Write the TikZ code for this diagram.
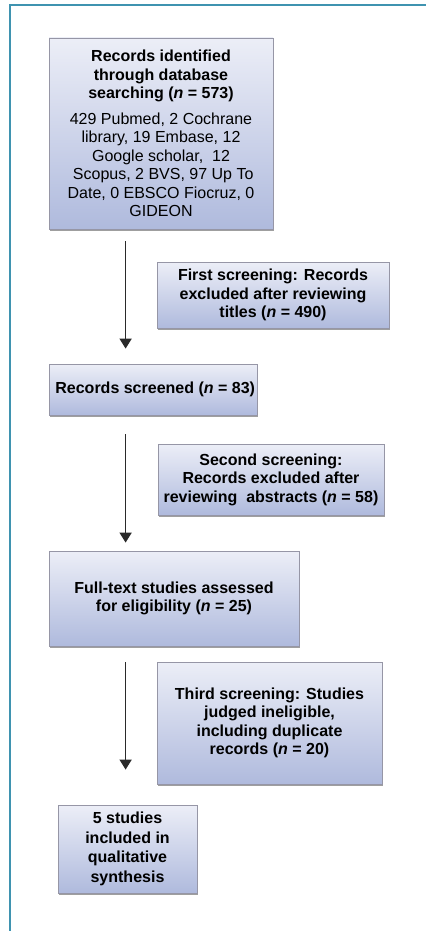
\documentclass[tikz,border=0pt]{standalone}
\usepackage{fontspec}
\setmainfont{Liberation Sans}
\usetikzlibrary{arrows.meta,shadows,calc}
\definecolor{frameteal}{HTML}{3F93B0}
\definecolor{boxtop}{HTML}{ECEEF7}
\definecolor{boxbot}{HTML}{AFBADD}
\definecolor{boxline}{HTML}{9696A6}
\definecolor{arrowgrey}{HTML}{2A2A2A}
\tikzset{
  flowbox/.style={draw=boxline, line width=0.8pt, top color=boxtop, bottom color=boxbot,
    align=center, inner sep=0pt, font=\fontsize{16}{18.5}\selectfont\bfseries,
    drop shadow={shadow xshift=1pt, shadow yshift=-2pt, fill=black!50, opacity=0.75}},
  flowarrow/.style={draw=arrowgrey, line width=1.6pt, -{Triangle[width=12pt,length=10pt]}}
}
\begin{document}
\begin{tikzpicture}[x=1pt,y=1pt]
\useasboundingbox (0,0) rectangle (426,-931);
\fill[white] (0,0) rectangle (426,-931);
% outer frame: top and left rules
\draw[frameteal, line width=2.5pt] (10,-931) -- (10,-5) -- (426,-5);

% boxes
\node[flowbox, minimum width=224, minimum height=191] (b1) at (161,-133.5)
  {Records identified\\through database\\searching (\textit{n} = 573)\\[7pt]
   \mdseries 429 Pubmed, 2 Cochrane\\\mdseries library, 19 Embase, 12\\
   \mdseries Google scholar,\ \ 12\\\mdseries\ Scopus, 2 BVS, 97 Up To\\
   \mdseries Date, 0 EBSCO Fiocruz, 0\\\mdseries GIDEON};
\node[flowbox, minimum width=232, minimum height=66] (b2) at (273,-295)
  {First screening: Records\\excluded after reviewing\\titles (\textit{n} = 490)};
\node[flowbox, minimum width=208, minimum height=51] (b3) at (153,-389.5)
  {\ Records screened (\textit{n} = 83)};
\node[flowbox, minimum width=226, minimum height=71] (b4) at (271,-479.5)
  {Second screening:\\Records excluded after\\reviewing\ \ abstracts (\textit{n} = 58)};
\node[flowbox, minimum width=250, minimum height=95] (b5) at (174,-598.5)
  {Full-text studies assessed\\for eligibility (\textit{n} = 25)};
\node[flowbox, minimum width=225, minimum height=122] (b6) at (269.5,-723)
  {Third screening: Studies\\judged ineligible,\\including duplicate\\records (\textit{n} = 20)};
\node[flowbox, minimum width=139, minimum height=88, font=\fontsize{16}{19.5}\selectfont\bfseries] (b7) at (127.5,-849)
  {5 studies\\included in\\qualitative\\synthesis};

% flow arrows
\draw[flowarrow] ([xshift=77pt,yshift=-12pt]b1.south west) -- ([xshift=77pt,yshift=15pt]b3.north west);
\draw[flowarrow] ([xshift=77pt,yshift=-19pt]b3.south west) -- ([xshift=77pt,yshift=8pt]b5.north west);
\draw[flowarrow] ([xshift=77pt,yshift=-16pt]b5.south west) -- ([xshift=68pt,yshift=35pt]b7.north west);
\end{tikzpicture}
\end{document}
